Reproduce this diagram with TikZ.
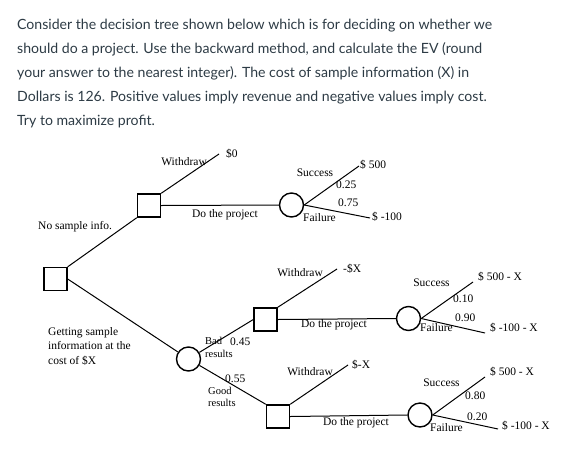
\documentclass[tikz,border=0pt]{standalone}
\usepackage{fontspec}
\setmainfont{Liberation Serif}
\newfontfamily\latofont{Lato}
\definecolor{hdr}{HTML}{2D3B45}
\begin{document}
\begin{tikzpicture}[x=1pt,y=-1pt,
  dec/.style={draw,line width=1.4pt,minimum size=23pt,inner sep=0pt,rectangle},
  chc/.style={draw,line width=1.4pt,minimum size=24pt,inner sep=0pt,circle},
  br/.style={line width=1pt},
  lbl/.style={font=\fontsize{11.5}{13}\selectfont,inner sep=0pt},
  hd/.style={font=\latofont\fontsize{14.1}{24}\selectfont,text=hdr,inner sep=0pt,anchor=base west}]
\useasboundingbox (0,0) rectangle (588,466);
\fill[white] (0,0) rectangle (588,466);
% header
\node[hd] (h1) at (17,29.3) {Consider the decision tree shown below which is for deciding on whether we};
\node[hd] (h2) at (17,53.3) {should do a project. Use the backward method, and calculate the EV (round};
\node[hd] (h3) at (17,77.3) {your answer to the nearest integer). The cost of sample information (X) in};
\node[hd] (h4) at (17,101.3) {Dollars is 126. Positive values imply revenue and negative values imply cost.};
\node[hd] (h5) at (17,125.3) {Try to maximize profit.};
% nodes
\node[dec] (root) at (55.5,279) {};
\node[dec] (d1) at (149,205.5) {};
\node[chc] (c1) at (291.5,205) {};
\node[chc] (c2) at (188.5,359) {};
\node[dec] (d2) at (265.5,319.5) {};
\node[dec] (d3) at (278,416.5) {};
\node[chc] (c3) at (408.5,318.5) {};
\node[chc] (c4) at (420,415) {};
% end points
\coordinate (w1) at (219,154);
\coordinate (s1) at (359,166);
\coordinate (f1) at (370,218);
\coordinate (w2) at (337,269);
\coordinate (s3) at (473,282);
\coordinate (f3) at (485,333);
\coordinate (w3) at (348,365);
\coordinate (s4) at (485,377);
\coordinate (f4) at (498,429);
% branches
\draw[br] (root.north east) -- (d1.south west);
\draw[br] (d1.north east) -- (w1);
\draw[br] (d1.east) -- (c1.west);
\draw[br] (c1.east) -- (s1);
\draw[br] (c1.east) -- (f1);
\draw[br] (root.east) -- (c2);
\draw[br] (c2) -- (d2.west);
\draw[br] (c2) -- (d3.north west);
\draw[br] (d2.north east) -- (w2);
\draw[br] (d2.east) -- (c3.west);
\draw[br] (c3.east) -- (s3);
\draw[br] (c3.east) -- (f3);
\draw[br] (d3.north east) -- (w3);
\draw[br] (d3.east) -- (c4.west);
\draw[br] (c4.east) -- (s4);
\draw[br] (c4.east) -- (f4);
% labels
\node[lbl,anchor=mid west] (l1) at (226,155) {\$0};
\node[lbl,anchor=mid east] (l2) at (207,163) {Withdraw};
\node[lbl,anchor=mid] (l3) at (225,215) {Do the project};
\node[lbl,anchor=mid] (l4) at (315,174) {Success};
\node[lbl,anchor=mid west] (l5) at (336,186) {0.25};
\node[lbl,anchor=mid west] (l6) at (360,166) {\$ 500};
\node[lbl,anchor=mid west] (l7) at (338,204) {0.75};
\node[lbl,anchor=mid west] (l8) at (303,219) {Failure};
\node[lbl,anchor=mid west] (l9) at (372,218) {\$ -100};
\node[lbl,anchor=mid west] (l10) at (38,227) {No sample info.};
\node[lbl,anchor=west,align=left,font=\fontsize{11.5}{14.5}\selectfont] (l11) at (48,346) {Getting sample\\information at the\\cost of \$X};
\node[lbl,anchor=west,align=left,font=\fontsize{10.5}{13}\selectfont] (l12) at (205,347) {Bad\\results};
\node[lbl,anchor=west,align=left,font=\fontsize{10.5}{12}\selectfont] (l13) at (208,397) {Good\\results};
\node[lbl,anchor=mid west] (l14) at (230,343) {0.45};
\node[lbl,anchor=mid west] (l15) at (225,380) {0.55};
\node[lbl,anchor=mid east] (l16) at (323,274) {Withdraw};
\node[lbl,anchor=mid west] (l17) at (343,270) {-\$X};
\node[lbl,anchor=mid] (l18) at (334,325) {Do the project};
\node[lbl,anchor=mid] (l19) at (431.5,284) {Success};
\node[lbl,anchor=mid west] (l20) at (478,278) {\$ 500 - X};
\node[lbl,anchor=mid west] (l21) at (453,300) {0.10};
\node[lbl,anchor=mid west] (l22) at (455,319) {0.90};
\node[lbl,anchor=mid west] (l23) at (420,329) {Failure};
\node[lbl,anchor=mid west] (l24) at (490,329) {\$ -100 - X};
\node[lbl,anchor=mid east] (l25) at (333,373) {Withdraw};
\node[lbl,anchor=mid west] (l26) at (352,366) {\$-X};
\node[lbl,anchor=mid] (l27) at (356,423) {Do the project};
\node[lbl,anchor=mid] (l28) at (441.5,384) {Success};
\node[lbl,anchor=mid west] (l29) at (490,373) {\$ 500 - X};
\node[lbl,anchor=mid west] (l30) at (465,397) {0.80};
\node[lbl,anchor=mid west] (l31) at (467,418) {0.20};
\node[lbl,anchor=mid west] (l32) at (430,429) {Failure};
\node[lbl,anchor=mid west] (l33) at (502,427) {\$ -100 - X};
\end{tikzpicture}
\end{document}
